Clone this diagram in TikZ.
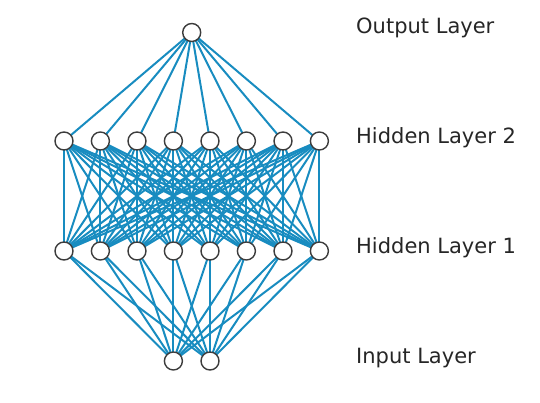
\documentclass[tikz,border=0pt]{standalone}
\usepackage{fontspec}
\setmainfont{DejaVu Sans}
\definecolor{edgeblue}{RGB}{24,140,192}
\definecolor{nodegray}{RGB}{60,60,60}
\pgfdeclarelayer{bg}
\pgfsetlayers{bg,main}
\tikzset{
  neuron/.style={circle, draw=nodegray, fill=white, line width=1.4pt, minimum size=18pt, inner sep=0pt},
  conn/.style={edgeblue, line width=2pt},
  layerlabel/.style={anchor=base west, font=\fontsize{21}{25}\selectfont, text=black!85, inner sep=0pt}
}
\begin{document}
\begin{tikzpicture}[x=1pt,y=-1pt]
\useasboundingbox (0,0) rectangle (540,403);
\foreach \i/\x in {1/64,2/100.4,3/137,4/173.4,5/210,6/246.4,7/283,8/319.4} {
  \coordinate (pa\i) at (\x,141);
  \coordinate (pb\i) at (\x,251);
}
\node[neuron] (o) at (191.7,32.5) {};
\foreach \i in {1,...,8} {
  \node[neuron] (h2\i) at (pa\i) {};
  \node[neuron] (h1\i) at (pb\i) {};
}
\node[neuron] (in1) at (173.4,361) {};
\node[neuron] (in2) at (210,361) {};
\begin{pgfonlayer}{bg}
\foreach \i in {1,...,8} {
  \draw[conn] (o.center) -- (h2\i.center);
  \draw[conn] (h1\i.center) -- (in1.center);
  \draw[conn] (h1\i.center) -- (in2.center);
  \foreach \j in {1,...,8} {
    \draw[conn] (h2\i.center) -- (h1\j.center);
  }
}
\end{pgfonlayer}
\node[layerlabel] (l4) at (356,34) {Output Layer};
\node[layerlabel] (l3) at (356,144) {Hidden Layer 2};
\node[layerlabel] (l2) at (356,253) {Hidden Layer 1};
\node[layerlabel] (l1) at (356,363) {Input Layer};
\end{tikzpicture}
\end{document}
